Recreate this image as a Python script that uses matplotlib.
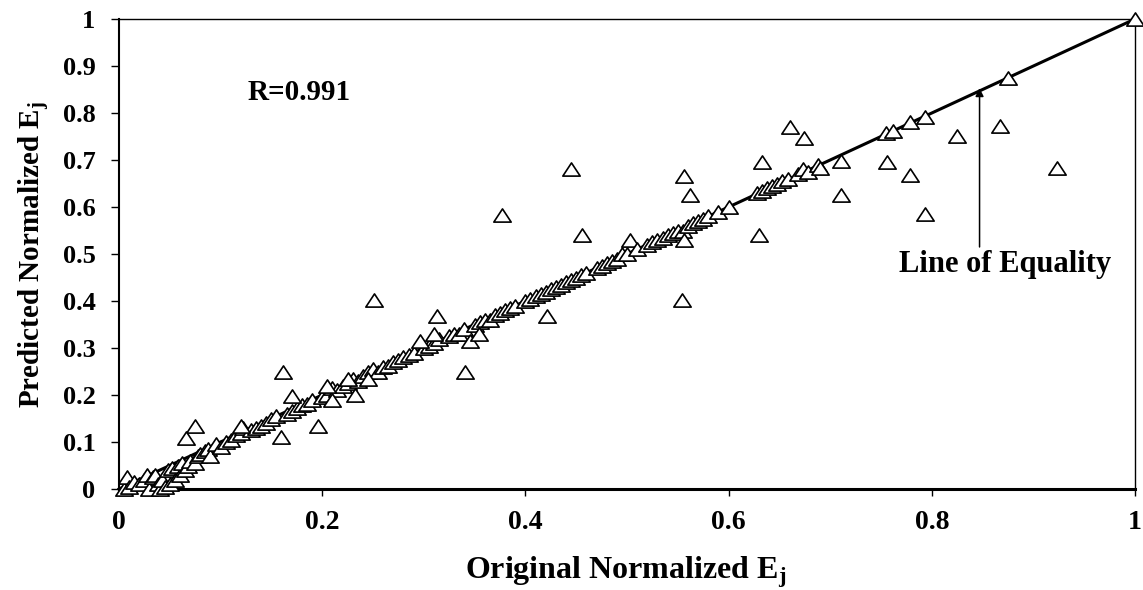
import matplotlib
matplotlib.use("Agg")
import matplotlib.pyplot as plt
from matplotlib.path import Path

# Points lying close to the line of equality
near_x = [0.005, 0.008, 0.010, 0.015, 0.020, 0.025, 0.028, 0.030, 0.033, 0.035, 0.038, 0.040,
          0.042, 0.045, 0.048, 0.050, 0.052, 0.055, 0.058, 0.060, 0.062, 0.065, 0.068, 0.070,
          0.075, 0.078, 0.080, 0.085, 0.088, 0.090, 0.095, 0.100, 0.105, 0.110, 0.115, 0.120,
          0.122, 0.130, 0.135, 0.140, 0.145, 0.150, 0.155, 0.165, 0.170, 0.175, 0.180, 0.185,
          0.190, 0.200, 0.205, 0.210, 0.215, 0.220, 0.225, 0.230, 0.235, 0.240, 0.245, 0.250,
          0.255, 0.260, 0.265, 0.270, 0.275, 0.280, 0.285, 0.290, 0.300, 0.305, 0.310, 0.315,
          0.325, 0.330, 0.335, 0.340, 0.350, 0.355, 0.360, 0.365, 0.370, 0.375, 0.380, 0.385,
          0.390, 0.400, 0.405, 0.410, 0.415, 0.420, 0.425, 0.430, 0.435, 0.440, 0.445, 0.450,
          0.455, 0.460, 0.470, 0.475, 0.480, 0.485, 0.490, 0.495, 0.500, 0.503, 0.510, 0.520,
          0.525, 0.530, 0.535, 0.540, 0.545, 0.550, 0.555, 0.560, 0.565, 0.570, 0.575, 0.580,
          0.590, 0.600, 0.628, 0.633, 0.638, 0.643, 0.648, 0.653, 0.658, 0.668, 0.673, 0.678,
          0.688, 0.690, 0.755, 0.762, 0.779, 0.793, 0.875, 1.000,
          0.120, 0.205, 0.225, 0.210, 0.232, 0.245, 0.345, 0.354, 0.296, 0.310]
near_y = [0.000, 0.025, 0.005, 0.015, 0.010, 0.020, 0.030, 0.000, 0.025, 0.030, 0.010, 0.000,
          0.020, 0.005, 0.040, 0.010, 0.045, 0.020, 0.050, 0.030, 0.055, 0.040, 0.050, 0.060,
          0.055, 0.070, 0.075, 0.080, 0.085, 0.070, 0.095, 0.090, 0.100, 0.105, 0.115, 0.120,
          0.130, 0.125, 0.130, 0.135, 0.140, 0.148, 0.155, 0.160, 0.165, 0.172, 0.178, 0.180,
          0.190, 0.195, 0.200, 0.215, 0.210, 0.220, 0.225, 0.235, 0.230, 0.240, 0.250, 0.255,
          0.250, 0.260, 0.262, 0.270, 0.275, 0.280, 0.285, 0.290, 0.300, 0.305, 0.310, 0.320,
          0.325, 0.330, 0.330, 0.340, 0.350, 0.355, 0.360, 0.360, 0.370, 0.375, 0.380, 0.385,
          0.390, 0.400, 0.405, 0.410, 0.415, 0.420, 0.425, 0.430, 0.435, 0.440, 0.445, 0.450,
          0.455, 0.460, 0.470, 0.475, 0.480, 0.485, 0.490, 0.500, 0.500, 0.530, 0.510, 0.520,
          0.525, 0.530, 0.535, 0.540, 0.545, 0.550, 0.550, 0.560, 0.565, 0.570, 0.575, 0.580,
          0.590, 0.600, 0.630, 0.635, 0.640, 0.645, 0.650, 0.655, 0.660, 0.670, 0.680, 0.675,
          0.690, 0.682, 0.758, 0.762, 0.780, 0.792, 0.874, 1.000,
          0.135, 0.220, 0.235, 0.190, 0.200, 0.235, 0.315, 0.330, 0.315, 0.330]

# Points clearly off the line
out_x = [0.867, 0.923, 0.825, 0.793, 0.779, 0.756, 0.711, 0.711, 0.674, 0.660, 0.633, 0.630,
         0.556, 0.562, 0.554, 0.556, 0.445, 0.456, 0.421, 0.377, 0.341, 0.313, 0.251, 0.161,
         0.159, 0.196, 0.170, 0.075, 0.066]
out_y = [0.772, 0.683, 0.751, 0.585, 0.668, 0.695, 0.698, 0.625, 0.747, 0.770, 0.695, 0.540,
         0.667, 0.625, 0.402, 0.530, 0.680, 0.540, 0.368, 0.582, 0.248, 0.368, 0.402, 0.248,
         0.110, 0.133, 0.198, 0.133, 0.108]

x_ticks = [0, 0.2, 0.4, 0.6, 0.8, 1]
x_tick_labels = ["0", "0.2", "0.4", "0.6", "0.8", "1"]
y_ticks = [0, 0.1, 0.2, 0.3, 0.4, 0.5, 0.6, 0.7, 0.8, 0.9, 1]
y_tick_labels = ["0", "0.1", "0.2", "0.3", "0.4", "0.5", "0.6", "0.7", "0.8", "0.9", "1"]

plt.rcParams['font.family'] = ['Liberation Serif', 'DejaVu Serif']
plt.rcParams['font.weight'] = 'bold'
plt.rcParams['mathtext.fontset'] = 'custom'
plt.rcParams['mathtext.rm'] = 'Liberation Serif:bold'
plt.rcParams['mathtext.default'] = 'rm'

fig = plt.figure(figsize=(11.43, 5.90), dpi=100)
ax = fig.add_axes([119 / 1143, 1 - 489 / 590, 1016 / 1143, 470 / 590])

# a slightly wide open triangle
tri = Path([(-1.0, -0.76), (1.0, -0.76), (0.0, 0.76), (-1.0, -0.76)],
           [Path.MOVETO, Path.LINETO, Path.LINETO, Path.CLOSEPOLY])

ax.plot([0, 1], [0, 1], color='black', lw=2.2, zorder=2, clip_on=False)
ax.plot(near_x + out_x, near_y + out_y, linestyle='none', marker=tri, markersize=12.5,
        markerfacecolor='white', markeredgecolor='black', markeredgewidth=1.2,
        zorder=3, clip_on=False)

ax.set_xlim(0, 1)
ax.set_ylim(0, 1)
ax.set_xticks(x_ticks)
ax.set_xticklabels(x_tick_labels, fontsize=20, fontweight='bold')
ax.set_yticks(y_ticks)
ax.set_yticklabels(y_tick_labels, fontsize=19, fontweight='bold')
ax.tick_params(axis='x', direction='out', length=5, width=1, pad=10)
ax.tick_params(axis='y', direction='out', length=6, width=1, pad=11)
for s in ax.spines.values():
    s.set_linewidth(1.0)
ax.spines['left'].set_linewidth(1.5)
ax.spines['bottom'].set_linewidth(2.2)

ax.set_xlabel("Original Normalized E$_{j}$", fontsize=23, fontweight='bold')
ax.set_ylabel("Predicted Normalized E$_{j}$", fontsize=21, fontweight='bold')
ax.xaxis.label.set_va('center')
ax.yaxis.label.set_va('center')
ax.xaxis.set_label_coords(0.499, -0.178)
ax.yaxis.set_label_coords(-0.083, 0.498)

ax.text(0.177, 0.828, "R=0.991", fontsize=21, fontweight='bold', ha='center', va='baseline')
ax.text(0.872, 0.462, "Line of Equality", fontsize=22, fontweight='bold', ha='center', va='baseline')
ax.annotate("", xy=(0.847, 0.853), xytext=(0.847, 0.515),
            arrowprops=dict(arrowstyle='-|>', color='black', lw=1.1, mutation_scale=12,
                            shrinkA=0, shrinkB=0))

fig.savefig("out.png", dpi=100)
